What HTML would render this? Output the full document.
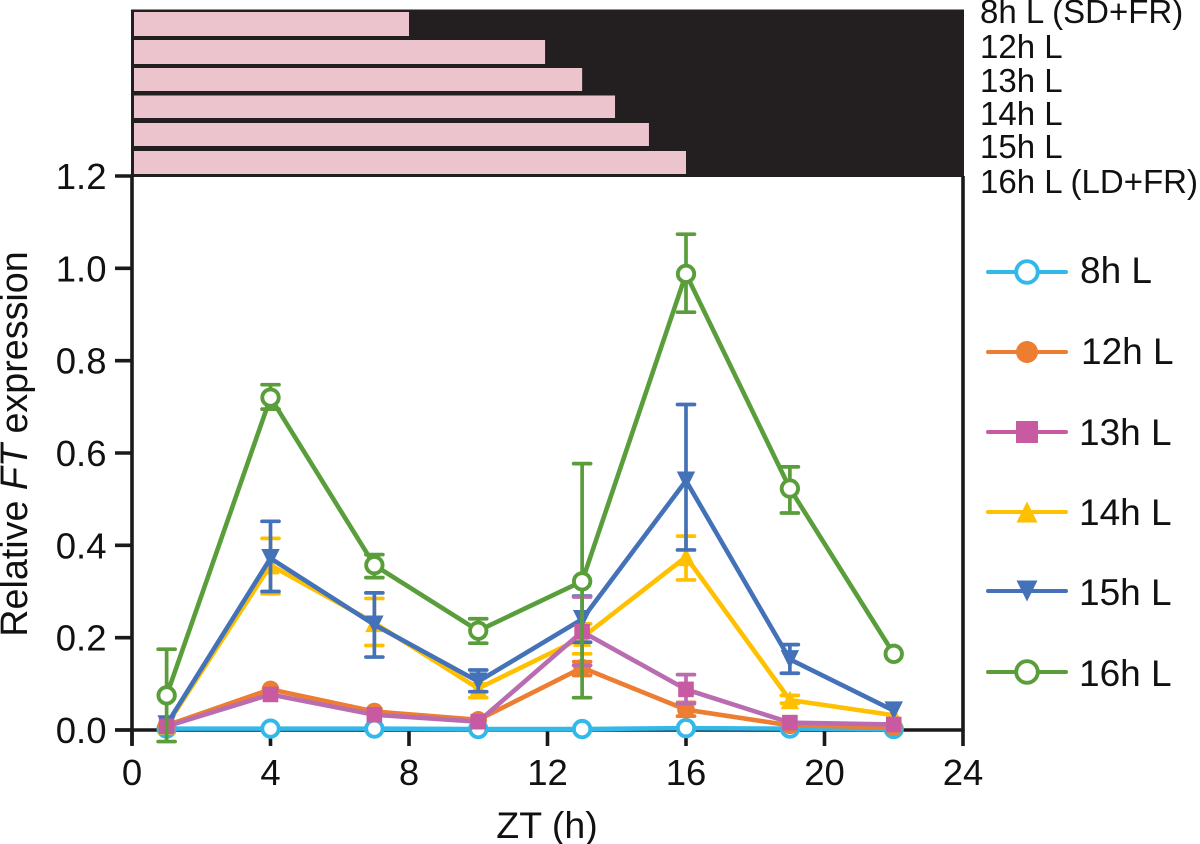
<!DOCTYPE html>
<html lang="en">
<head>
<meta charset="utf-8">
<title>Relative FT expression</title>
<style>
html,body{margin:0;padding:0;background:#fff;}
svg{display:block;font-family:"Liberation Sans",sans-serif;}
</style>
</head>
<body>
<svg id="chart" xmlns="http://www.w3.org/2000/svg" width="1200" height="844" viewBox="0 0 1200 844"></svg>
<script>
const timePoints = [1, 4, 7, 10, 13, 16, 19, 22];
const xTicks = [0, 4, 8, 12, 16, 20, 24];
const yTicks = [0, 0.2, 0.4, 0.6, 0.8, 1.0, 1.2];
const yTickLabels = ['0.0', '0.2', '0.4', '0.6', '0.8', '1.0', '1.2'];

const photoperiodLabels = ['8h L (SD+FR)', '12h L', '13h L', '14h L', '15h L', '16h L (LD+FR)'];
const photoperiodLightHours = [8, 11.93, 13, 13.95, 14.93, 16];

const values8h = [0.003, 0.003, 0.003, 0.002, 0.002, 0.004, 0.003, 0.002];
const values12h = [0.01, 0.088, 0.04, 0.022, 0.135, 0.044, 0.01, 0.006];
const values13h = [0.008, 0.077, 0.033, 0.018, 0.213, 0.088, 0.016, 0.012];
const values14h = [0.01, 0.357, 0.232, 0.09, 0.2, 0.375, 0.065, 0.032];
const values15h = [0.012, 0.372, 0.228, 0.105, 0.24, 0.54, 0.153, 0.042];
const values16h = [0.075, 0.72, 0.357, 0.215, 0.322, 0.988, 0.523, 0.165];

const upper12h = [null, null, null, null, 0.148, 0.06, null, null];
const lower12h = [null, null, null, null, 0.118, 0.03, null, null];
const upper13h = [null, null, null, null, 0.288, 0.12, null, null];
const lower13h = [null, null, null, null, 0.14, 0.057, null, null];
const upper14h = [null, 0.415, 0.285, 0.1, 0.23, 0.42, 0.075, null];
const lower14h = [null, 0.295, 0.183, 0.07, 0.165, 0.325, 0.058, null];
const upper15h = [null, 0.452, 0.297, 0.13, 0.29, 0.705, 0.185, null];
const lower15h = [null, 0.3, 0.158, 0.083, 0.19, 0.39, 0.123, null];
const upper16h = [0.175, 0.748, 0.38, 0.241, 0.577, 1.074, 0.57, null];
const lower16h = [-0.025, 0.695, 0.33, 0.188, 0.07, 0.905, 0.47, null];
const empty = [null, null, null, null, null, null, null, null];

const NS = 'http://www.w3.org/2000/svg';
const svg = document.getElementById('chart');

function xScale(h) { return 132 + h * (831 / 24); }
function yScale(v) { return 730 - v * (554 / 1.2); }

function make(tag, attrs, parent) {
  const el = document.createElementNS(NS, tag);
  for (const k in attrs) el.setAttribute(k, attrs[k]);
  (parent || svg).appendChild(el);
  return el;
}

/* Photoperiod bars */
const barTops = [12, 40, 68, 95.5, 123, 151];
const barBottoms = [36, 64, 91, 118, 146, 174];
const darkPanel = make('rect', {x: 131, y: 9.5, width: 833, height: 167.5, fill: '#231f20'});


photoperiodLightHours.forEach(function (h, i) {
  const bar = make('rect', {x: 134, y: barTops[i], width: xScale(h) - 134, height: barBottoms[i] - barTops[i], fill: '#ebc4cd'});
  
  
});
const barLabelBaselines = [23, 58, 92, 125, 158, 193];
photoperiodLabels.forEach(function (t, i) {
  const label = make('text', {x: 980, y: barLabelBaselines[i], 'font-size': 33, fill: '#111'});
  label.textContent = t;
  
  
});

/* Axes */
const axisStyle = {stroke: '#1a1a1a', 'stroke-width': 3.6};
function axisLine(x1, y1, x2, y2, name) {
  const l = make('line', Object.assign({x1: x1, y1: y1, x2: x2, y2: y2}, axisStyle));
  
  
}
axisLine(132, 176, 132, 745, 'y-axis-line');
axisLine(963, 176, 963, 731, 'right-axis-line');
axisLine(115, 730, 964.5, 730, 'x-axis-line');
xTicks.forEach(function (t) {
  axisLine(xScale(t), 730, xScale(t), 746, 'x-tick');
  const label = make('text', {x: xScale(t), y: 785, 'font-size': 36.5, 'text-anchor': 'middle', fill: '#111'});
  label.textContent = String(t);
  
  
});
yTicks.forEach(function (t, i) {
  axisLine(115, yScale(t), 132, yScale(t), 'y-tick');
  const label = make('text', {x: 106.5, y: yScale(t) + 13, 'font-size': 36.5, 'text-anchor': 'end', fill: '#111'});
  label.textContent = yTickLabels[i];
  
  
});
const xTitle = make('text', {x: 547, y: 838, 'font-size': 37.5, 'text-anchor': 'middle', fill: '#111'});
xTitle.textContent = 'ZT (h)';


const yTitle = make('text', {x: 0, y: 0, 'font-size': 37.7, 'text-anchor': 'middle', fill: '#111', transform: 'translate(27,444) rotate(-90)'});


make('tspan', {}, yTitle).textContent = 'Relative ';
make('tspan', {'font-style': 'italic'}, yTitle).textContent = 'FT';
make('tspan', {}, yTitle).textContent = ' expression';

/* Marker drawing */
function marker(parent, kind, cx, cy, s, color) {
  if (kind === 'open') return make('circle', {cx: cx, cy: cy, r: s, fill: '#fff', stroke: color, 'stroke-width': 3.9}, parent);
  if (kind === 'dot') return make('circle', {cx: cx, cy: cy, r: s, fill: color}, parent);
  if (kind === 'square') return make('rect', {x: cx - s, y: cy - s, width: 2 * s, height: 2 * s, fill: color}, parent);
  if (kind === 'up') return make('polygon', {points: (cx) + ',' + (cy - s) + ' ' + (cx + s) + ',' + (cy + s) + ' ' + (cx - s) + ',' + (cy + s), fill: color}, parent);
  return make('polygon', {points: (cx - s) + ',' + (cy - s) + ' ' + (cx + s) + ',' + (cy - s) + ' ' + (cx) + ',' + (cy + s), fill: color}, parent);
}

/* Series, in paint order */
const drawOrder = [
  {name: '8h',  values: values8h,  upper: empty,    lower: empty,    color: '#33b8ea', markColor: '#33b8ea', kind: 'open',   size: 8.2},
  {name: '12h', values: values12h, upper: upper12h, lower: lower12h, color: '#ed7d31', markColor: '#ed7d31', kind: 'dot',    size: 8.8},
  {name: '14h', values: values14h, upper: upper14h, lower: lower14h, color: '#ffc000', markColor: '#ffc000', kind: 'up',     size: 9.2},
  {name: '15h', values: values15h, upper: upper15h, lower: lower15h, color: '#4472b8', markColor: '#4472b8', kind: 'down',   size: 9.2},
  {name: '13h', values: values13h, upper: upper13h, lower: lower13h, color: '#b96db0', markColor: '#c85aa2', kind: 'square', size: 7.8},
  {name: '16h', values: values16h, upper: upper16h, lower: lower16h, color: '#5a9e3c', markColor: '#5a9e3c', kind: 'open',   size: 8.2}
];
drawOrder.forEach(function (s) {
  const g = make('g', {});
  
  
  timePoints.forEach(function (t, i) {
    if (s.upper[i] === null) return;
    const x = xScale(t);
    const yU = yScale(s.upper[i]);
    const yL = yScale(s.lower[i]);
    const bar = make('path', {d: 'M' + (x - 8.5) + ' ' + yU + 'H' + (x + 8.5) + 'M' + x + ' ' + yU + 'V' + yL + 'M' + (x - 8.5) + ' ' + yL + 'H' + (x + 8.5), fill: 'none', stroke: s.color, 'stroke-width': 3.7, 'stroke-linecap': 'round'}, g);
    
    
  });
  const pts = timePoints.map(function (t, i) { return xScale(t) + ',' + yScale(s.values[i]); }).join(' ');
  const line = make('polyline', {points: pts, fill: 'none', stroke: s.color, 'stroke-width': 4.6, 'stroke-linejoin': 'round'}, g);
  
  
  timePoints.forEach(function (t, i) {
    const m = marker(g, s.kind, xScale(t), yScale(s.values[i]), s.size, s.markColor);
    
    
  });
});

/* Legend */
const legendLabels = ['8h L', '12h L', '13h L', '14h L', '15h L', '16h L'];
const legendColors = ['#33b8ea', '#ed7d31', '#c85aa2', '#ffc000', '#4472b8', '#5a9e3c'];
const legendKinds = ['open', 'dot', 'square', 'up', 'down', 'open'];
const legendSizes = [10.8, 11, 11, 10.5, 10.5, 10.8];
const legendRowY = [272, 352, 432, 512, 591, 672];
const legendTextX = [1080, 1081, 1079, 1079, 1079, 1079];
const legendBaselineOffset = [11, 12, 13, 13, 14, 14];
legendLabels.forEach(function (t, i) {
  const g = make('g', {});
  
  
  make('line', {x1: 988, y1: legendRowY[i], x2: 1066, y2: legendRowY[i], stroke: legendColors[i], 'stroke-width': 4, 'stroke-linecap': 'round'}, g);
  marker(g, legendKinds[i], 1027, legendRowY[i], legendSizes[i], legendColors[i]);
  const label = make('text', {x: legendTextX[i], y: legendRowY[i] + legendBaselineOffset[i], 'font-size': 37, fill: '#111'}, g);
  label.textContent = t;
});
</script>
</body>
</html>
